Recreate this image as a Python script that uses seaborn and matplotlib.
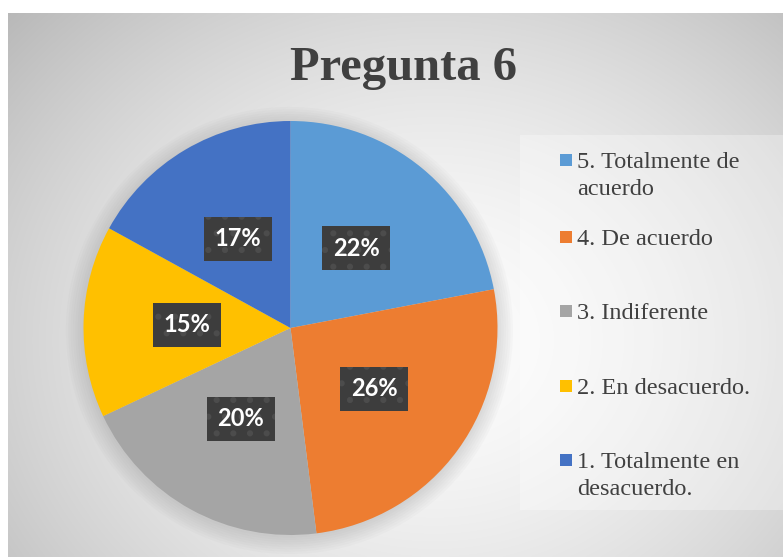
import numpy as np
import matplotlib
matplotlib.use("Agg")
import matplotlib.pyplot as plt
import seaborn as sns
from matplotlib.patches import Rectangle, Circle

# ---- data ----
categories = ["5. Totalmente de\nacuerdo", "4. De acuerdo", "3. Indiferente",
              "2. En desacuerdo.", "1. Totalmente en\ndesacuerdo."]
percentages = [22, 26, 20, 15, 17]
colors = ["#5B9BD5", "#ED7D31", "#A5A5A5", "#FFC000", "#4472C4"]
title = "Pregunta 6"

sns.set_theme(style="white")
plt.rcParams['font.family'] = ['Liberation Serif', 'DejaVu Sans']

W, H = 783, 557
fig = plt.figure(figsize=(W / 100, H / 100), dpi=100)
fig.patch.set_facecolor("white")

def fx(x):
    return x / W

def fy(y):
    return 1 - y / H

# background gradient of chart area
bg = fig.add_axes([fx(8), 0, 1 - fx(8), fy(13)])
ny, nx = 300, 400
yy, xx = np.mgrid[0:ny, 0:nx]
cx, cy = nx * 0.55, ny * 0.6
r = np.sqrt(((xx - cx) / (nx * 0.62)) ** 2 + ((yy - cy) / (ny * 0.75)) ** 2)
val = 0.99 - 0.20 * np.clip(r, 0, 1.2) ** 1.6
img = np.dstack([val, val, val])
bg.imshow(img, aspect="auto", extent=[0, 1, 0, 1], interpolation="bilinear")
bg.set_axis_off()

# legend panel
fig.patches.append(Rectangle((fx(520), fy(510)), fx(783) - fx(520), fy(135) - fy(510),
                             transform=fig.transFigure, facecolor="white", alpha=0.3,
                             edgecolor="none", zorder=1))

# pie axes
cxp, cyp, R = 290.5, 328, 207
ax = fig.add_axes([fx(cxp - R), fy(cyp + R), 2 * R / W, 2 * R / H])
ax.set_axis_off()

# soft shadow
for rr in np.linspace(1.08, 1.0, 8):
    ax.add_patch(Circle((-0.005, -0.012), rr, facecolor="#808080", alpha=0.035,
                        edgecolor="none", zorder=0, clip_on=False))

wedges, texts, autotexts = ax.pie(
    percentages, colors=colors, startangle=90, counterclock=False,
    radius=1.0, autopct=lambda p: f"{p:.0f}%", pctdistance=0.5,
    wedgeprops=dict(linewidth=0, edgecolor="white"),
    textprops=dict(color="white", fontsize=17, fontweight="bold",
                   family=["Lato", "DejaVu Sans"]))
ax.set_xlim(-1, 1)
ax.set_ylim(-1, 1)
ax.set_aspect("equal")
for w in wedges:
    w.set_zorder(2)
    w.set_clip_on(False)
plt.rcParams['hatch.linewidth'] = 2.0
for t in autotexts:
    t.set_zorder(5)
    t.set_bbox(dict(boxstyle="square,pad=0.45", facecolor="#3d3d3d",
                    edgecolor="#4c4c4c", hatch=".", linewidth=0))

# title
fig.text(fx(404), fy(80), title, ha="center", va="baseline", fontsize=35,
         fontweight="bold", color="#404040", family=["Liberation Serif"])

# legend (manual, Excel-like spacing)
baselines = [[168, 195], [245], [319], [394], [468, 495]]
for lab, col, bls in zip(categories, colors, baselines):
    lines = lab.split("\n")
    sq_c = bls[0] - 8
    fig.patches.append(Rectangle((fx(559.5), fy(sq_c + 6)), 12 / W, 12 / H,
                                 transform=fig.transFigure, facecolor=col,
                                 edgecolor="none", zorder=3))
    for ln, bl in zip(lines, bls):
        fig.text(fx(577), fy(bl), ln, ha="left", va="baseline", fontsize=17.5,
                 color="#404040", family=["Liberation Serif"])

fig.savefig("out.png", dpi=100)
